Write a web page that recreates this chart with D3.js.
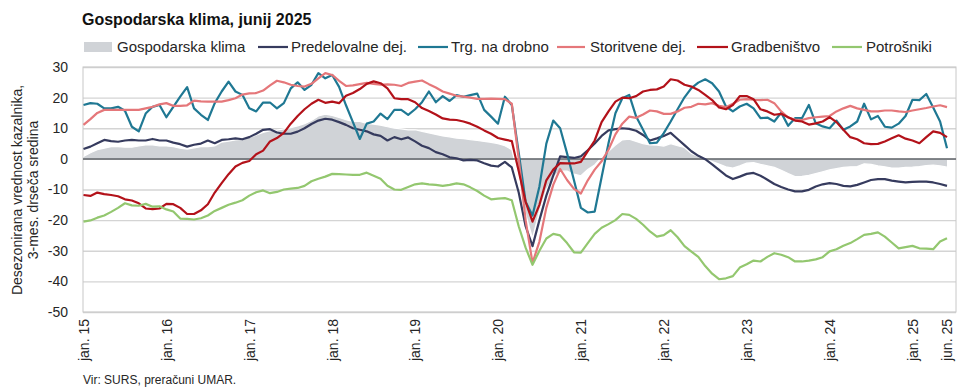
<!DOCTYPE html>
<html>
<head>
<meta charset="utf-8">
<script src="https://cdn.jsdelivr.net/npm/d3@7"></script>
<style>
  html, body { margin: 0; padding: 0; background: #ffffff; }
  svg { display: block; font-family: "Liberation Sans", Arial, sans-serif; }
</style>
</head>
<body>
<svg id="chart" width="960" height="392"></svg>
<script>
// ---------- DATA (monthly, jan. 2015 – jun. 2025) ----------
const categories = [];
for (let yr = 2015; yr <= 2025; yr++) {
  for (let mo = 1; mo <= 12; mo++) {
    if (yr === 2025 && mo > 6) break;
    categories.push(yr + "-" + String(mo).padStart(2, "0"));
  }
}

const tickCategories = ["2015-01","2016-01","2017-01","2018-01","2019-01","2020-01","2021-01","2022-01","2023-01","2024-01","2025-01","2025-06"];
const tickLabels = ["jan. 15","jan. 16","jan. 17","jan. 18","jan. 19","jan. 20","jan. 21","jan. 22","jan. 23","jan. 24","jan. 25","jun. 25"];
const yTicks = [30, 20, 10, 0, -10, -20, -30, -40, -50];

const seriesNames = ["Gospodarska klima","Predelovalne dej.","Trg. na drobno","Storitvene dej.","Gradbeništvo","Potrošniki"];

const klima = [
  0.8,2.0,3.0,3.5,4.0,4.0,3.8,3.8,4.2,4.6,4.6,4.2,
  4.2,4.0,3.5,3.2,3.6,4.0,4.0,4.2,5.5,5.8,6.2,6.4,
  7.0,7.8,8.6,9.2,9.4,9.8,10.2,10.8,11.5,12.5,14.0,14.6,
  14.2,13.5,12.8,12.2,12.2,11.6,11.3,11.0,10.5,10.0,9.8,9.5,
  9.5,9.0,8.5,8.0,7.5,7.2,6.8,6.6,6.3,6.0,5.7,5.4,
  5.0,4.3,3.0,-6.0,-18.0,-26.0,-17.0,-10.0,-6.0,-4.0,-4.0,-5.0,
  -5.5,-3.5,-2.0,0.5,2.5,4.5,6.2,6.4,5.7,5.0,4.6,4.5,
  4.2,5.0,4.3,3.7,1.8,0.8,-0.1,-0.9,-1.7,-2.6,-3.0,-2.3,
  -1.4,-1.2,-1.8,-2.3,-2.8,-3.7,-4.8,-5.8,-5.7,-5.4,-4.8,-4.2,
  -3.6,-3.2,-2.8,-2.6,-2.5,-1.6,-1.8,-2.3,-2.6,-3.0,-3.0,-2.8,
  -2.7,-2.5,-2.2,-2.0,-2.3,-2.7
];

const predelovalne = [
  3.2,4.0,5.1,6.2,5.8,5.6,6.0,6.2,6.0,6.0,6.5,6.0,
  6.0,5.3,4.8,4.0,4.6,5.0,6.0,5.1,6.2,6.4,6.7,6.4,
  7.1,8.2,9.5,9.7,8.6,8.2,8.2,8.9,10.0,11.4,12.5,13.1,
  12.8,12.0,11.1,10.0,9.5,9.0,8.0,7.5,6.0,7.1,6.4,7.0,
  5.7,4.3,3.5,2.2,1.5,0.5,0.2,-0.5,-0.3,-0.5,-1.4,-2.2,
  -2.5,-1.0,-2.8,-11.0,-22.0,-28.5,-20.0,-12.0,-5.5,0.8,0.6,0.3,
  0.8,2.8,5.0,7.5,9.3,9.7,10.0,9.8,9.2,7.8,6.0,6.7,
  7.5,8.5,6.5,4.5,2.5,1.0,-0.1,-1.8,-3.6,-5.4,-6.6,-5.8,
  -4.9,-4.6,-5.5,-6.8,-8.2,-9.2,-10.0,-10.6,-10.6,-10.1,-9.0,-8.3,
  -7.9,-8.2,-8.8,-9.0,-8.5,-7.7,-6.9,-6.6,-6.6,-7.1,-7.4,-7.7,
  -7.5,-7.4,-7.4,-7.7,-8.2,-8.8
];

const trgovina = [
  17.6,18.2,18.0,16.5,16.5,17.0,15.7,10.5,9.0,14.8,17.0,17.6,
  13.6,17.0,20.3,23.4,16.5,14.4,12.7,18.2,22.0,25.2,22.0,20.9,
  16.5,15.5,18.4,18.4,16.5,18.2,23.0,25.0,22.5,24.2,28.0,26.3,
  27.4,23.5,17.5,12.0,6.5,11.5,12.2,14.8,13.0,16.0,16.0,14.4,
  16.2,18.5,22.0,18.5,20.5,18.9,20.8,20.3,20.8,21.3,16.0,13.8,
  11.5,20.3,17.6,2.0,-14.0,-18.5,-9.0,5.0,12.5,10.0,1.8,-7.0,
  -16.0,-17.5,-17.2,-6.0,5.1,14.9,19.8,20.9,13.8,9.5,5.1,5.3,
  8.4,12.2,16.2,20.1,23.1,24.9,26.0,24.7,22.0,17.1,15.5,17.1,
  18.0,16.5,13.3,13.5,12.2,15.1,10.8,13.3,13.3,17.6,11.6,10.6,
  10.0,12.5,9.5,10.6,12.2,18.0,12.9,14.0,10.5,10.2,11.5,14.0,
  19.3,19.2,21.2,16.8,12.2,3.5
];

const storitve = [
  11.1,13.0,15.0,16.0,16.0,16.0,16.0,16.0,16.0,16.5,17.0,17.8,
  18.2,17.3,17.3,17.5,19.0,18.8,18.7,18.7,18.7,19.2,19.8,21.0,
  21.4,21.5,22.3,24.0,25.5,25.0,24.2,23.8,23.6,24.5,26.3,28.0,
  27.4,25.5,23.8,24.0,24.4,24.8,24.5,24.2,24.3,24.2,23.8,24.8,
  25.2,25.6,24.4,23.3,22.0,21.3,20.6,20.3,20.0,19.6,19.6,19.7,
  19.6,19.5,18.0,0.0,-20.0,-34.0,-27.0,-16.0,-8.5,-3.3,-6.9,-9.8,
  -11.3,-7.0,-3.5,-0.8,3.0,8.0,11.5,13.8,13.4,14.5,15.8,15.5,
  14.7,14.7,15.5,16.7,17.0,18.0,17.8,18.2,17.3,16.9,18.0,19.3,
  19.5,19.3,19.2,19.3,18.2,15.5,13.5,12.8,12.7,13.3,13.6,13.8,
  14.0,15.5,16.5,17.3,16.5,16.0,15.5,15.5,15.8,15.8,15.5,15.3,
  15.8,16.2,16.6,17.1,17.5,16.9
];

const gradbenistvo = [
  -11.8,-12.1,-11.0,-11.5,-11.8,-12.2,-13.2,-13.6,-14.5,-16.2,-16.4,-16.2,
  -14.7,-14.8,-16.0,-18.0,-18.0,-16.8,-14.8,-11.0,-7.9,-5.0,-2.5,-1.3,
  -0.7,1.5,2.7,5.7,6.8,8.5,11.5,14.0,16.2,18.0,19.3,18.3,
  18.7,18.2,20.6,21.5,22.8,24.5,25.3,24.7,23.0,19.8,19.5,19.5,
  18.5,16.6,15.6,14.5,13.2,12.8,12.7,12.2,11.5,10.5,9.3,8.2,
  6.8,6.3,5.8,-4.0,-14.0,-20.5,-15.0,-7.0,-3.5,-1.4,-1.5,-1.5,
  -1.0,2.5,6.0,12.0,15.5,18.7,20.0,19.8,20.5,22.0,22.5,22.7,
  23.6,26.0,25.6,24.2,23.6,22.5,20.9,19.2,16.8,16.2,17.6,20.5,
  20.5,19.5,16.2,15.5,14.4,14.7,13.6,12.5,12.2,11.2,11.6,12.2,
  13.6,12.0,9.5,7.1,6.4,5.1,4.8,4.9,5.7,6.7,7.7,6.6,
  6.0,5.1,7.1,9.0,8.5,7.1
];

const potrosniki = [
  -20.5,-20.1,-19.2,-18.5,-17.3,-16.0,-14.5,-15.2,-15.3,-14.7,-15.6,-15.5,
  -16.5,-17.2,-19.5,-19.6,-19.8,-19.4,-18.5,-17.0,-16.0,-15.0,-14.3,-13.5,
  -12.0,-10.9,-10.3,-11.2,-10.8,-10.0,-9.7,-9.5,-8.8,-7.3,-6.5,-5.8,
  -4.9,-5.0,-5.1,-5.2,-5.2,-4.5,-5.5,-6.5,-8.8,-10.0,-10.1,-9.2,
  -8.3,-8.0,-8.3,-8.5,-8.8,-8.5,-8.0,-8.3,-9.3,-10.5,-12.0,-13.2,
  -13.0,-12.8,-13.5,-22.0,-29.0,-34.6,-30.0,-26.0,-24.5,-25.0,-27.5,-30.5,
  -30.6,-27.5,-24.5,-22.5,-21.3,-20.0,-18.0,-18.3,-19.6,-21.5,-23.7,-25.4,
  -24.9,-23.3,-25.6,-28.5,-30.3,-32.0,-35.0,-37.5,-39.3,-39.0,-38.3,-35.5,
  -34.4,-33.2,-33.5,-32.0,-30.8,-31.3,-32.1,-33.5,-33.5,-33.2,-32.8,-32.1,
  -30.2,-29.5,-28.4,-27.5,-26.2,-24.8,-24.5,-24.0,-25.4,-27.3,-29.2,-28.8,
  -28.4,-29.2,-29.3,-29.5,-27.0,-25.9
];

// ---------- STYLE ----------
const colors = {
  klima: "#d0d3d7",
  predelovalne: "#363b5e",
  trgovina: "#1f7893",
  storitve: "#e5777a",
  gradbenistvo: "#b3121a",
  potrosniki: "#93c76f"
};

const svg = d3.select("#chart");
const plot = { left: 83, right: 956, top: 67, bottom: 312 };

const x = d3.scalePoint().domain(categories).range([83.5, 947]);
const y = d3.scaleLinear().domain([-50, 30]).range([plot.bottom, plot.top]);

// Title
svg.append("text")
  .attr("x", 82).attr("y", 25)
  .attr("font-size", 16).attr("font-weight", "bold").attr("fill", "#111")
  .text("Gospodarska klima, junij 2025");

// Gridlines
svg.append("g")
  .attr("transform", `translate(${plot.left},0)`)
  .call(d3.axisLeft(y).tickValues(yTicks).tickSize(-(plot.right - plot.left)).tickFormat(""))
  .call(g => g.select(".domain").remove())
  .call(g => g.selectAll("line").attr("stroke", "#d4d4d4").attr("stroke-width", 1.3));

// Plot frame
svg.append("rect")
  .attr("x", plot.left).attr("y", plot.top)
  .attr("width", plot.right - plot.left).attr("height", plot.bottom - plot.top)
  .attr("fill", "none").attr("stroke", "#c8c8c8").attr("stroke-width", 1);

// Area (Gospodarska klima)
const area = d3.area()
  .x((d, i) => x(categories[i]))
  .y0(y(0))
  .y1(d => y(d));
svg.append("path")
  .datum(klima)
  .attr("d", area)
  .attr("fill", colors.klima);
svg.append("path")
  .datum(klima)
  .attr("d", d3.line().x((d, i) => x(categories[i])).y(d => y(d)))
  .attr("fill", "none").attr("stroke", "#ffffff").attr("stroke-width", 1.2);

// Zero line
svg.append("line")
  .attr("x1", plot.left).attr("x2", plot.right)
  .attr("y1", y(0)).attr("y2", y(0))
  .attr("stroke", "#5f6368").attr("stroke-width", 1.5);

// Lines
const line = d3.line()
  .x((d, i) => x(categories[i]))
  .y(d => y(d));

const lineSeries = [
  { data: predelovalne, color: colors.predelovalne },
  { data: trgovina, color: colors.trgovina },
  { data: storitve, color: colors.storitve },
  { data: gradbenistvo, color: colors.gradbenistvo },
  { data: potrosniki, color: colors.potrosniki }
];
lineSeries.forEach(s => {
  svg.append("path")
    .datum(s.data)
    .attr("d", line)
    .attr("fill", "none")
    .attr("stroke", s.color)
    .attr("stroke-width", 2.2)
    .attr("stroke-linejoin", "round");
});

// Y axis labels
const yAxis = svg.append("g")
  .attr("transform", `translate(${plot.left - 15},0)`)
  .call(d3.axisLeft(y).tickValues(yTicks).tickSize(0).tickPadding(0).tickFormat(d => String(d)))
  .call(g => g.select(".domain").remove());
yAxis.selectAll("text")
  .attr("font-size", 14).attr("fill", "#262626")
  .attr("font-family", "Liberation Sans, Arial, sans-serif");

// X axis labels (rotated)
const tickMap = new Map(tickCategories.map((c, i) => [c, tickLabels[i]]));
const xAxis = svg.append("g")
  .attr("transform", `translate(0,${plot.bottom})`)
  .call(d3.axisBottom(x).tickValues(tickCategories).tickSize(0).tickFormat(c => tickMap.get(c)))
  .call(g => g.select(".domain").remove());
xAxis.selectAll("text")
  .attr("font-size", 14).attr("fill", "#262626")
  .attr("font-family", "Liberation Sans, Arial, sans-serif")
  .attr("text-anchor", "end")
  .attr("transform", "rotate(-90)")
  .attr("x", -7).attr("y", 0).attr("dy", "0.35em");

// Y axis title
const yTitle = svg.append("text")
  .attr("transform", "translate(22,190) rotate(-90)")
  .attr("text-anchor", "middle")
  .attr("font-size", 14).attr("fill", "#262626");
yTitle.append("tspan").attr("x", 0).attr("dy", 0).text("Desezonirana vrednost kazalnika,");
yTitle.append("tspan").attr("x", 0).attr("dy", 16).text("3-mes. drseča sredina");

// Legend
const legendItems = [
  { name: seriesNames[0], color: colors.klima, type: "rect", x0: 84, x1: 112, tx: 117 },
  { name: seriesNames[1], color: colors.predelovalne, type: "line", x0: 258, x1: 288, tx: 291 },
  { name: seriesNames[2], color: colors.trgovina, type: "line", x0: 418, x1: 448, tx: 451 },
  { name: seriesNames[3], color: colors.storitve, type: "line", x0: 557, x1: 585, tx: 590 },
  { name: seriesNames[4], color: colors.gradbenistvo, type: "line", x0: 697, x1: 728, tx: 731 },
  { name: seriesNames[5], color: colors.potrosniki, type: "line", x0: 832, x1: 862, tx: 866 }
];
const legend = svg.append("g");
legendItems.forEach(it => {
  if (it.type === "rect") {
    legend.append("rect").attr("x", it.x0).attr("y", 42).attr("width", it.x1 - it.x0).attr("height", 10).attr("fill", it.color);
  } else {
    legend.append("line").attr("x1", it.x0).attr("x2", it.x1).attr("y1", 47).attr("y2", 47)
      .attr("stroke", it.color).attr("stroke-width", 2.2);
  }
  legend.append("text").attr("x", it.tx).attr("y", 52)
    .attr("font-size", 15).attr("fill", "#262626").text(it.name);
});

// Source
svg.append("text")
  .attr("x", 83).attr("y", 384)
  .attr("font-size", 12).attr("fill", "#262626")
  .text("Vir: SURS, preračuni UMAR.")
</script>
</body>
</html>
